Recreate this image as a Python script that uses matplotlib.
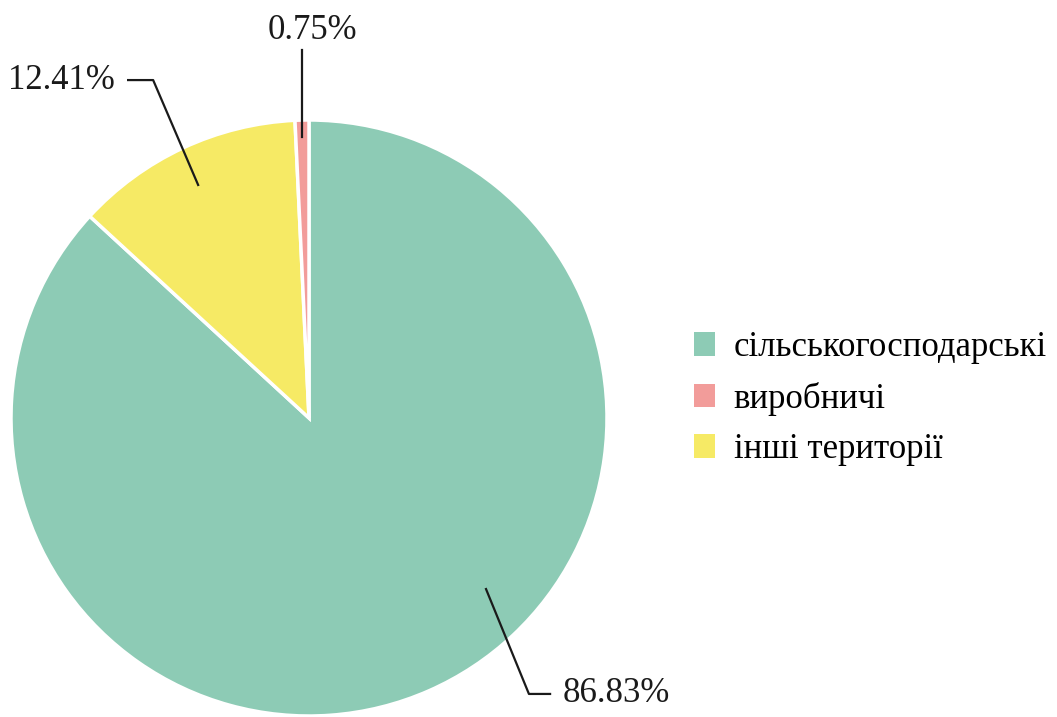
import matplotlib.pyplot as plt
from matplotlib.patches import Patch

plt.rcParams['font.family'] = ['Liberation Serif', 'DejaVu Serif']

labels = ['сільськогосподарські', 'виробничі', 'інші території']
values = [86.83, 0.75, 12.41]
colors = ['#8dcbb5', '#f29c9a', '#f6ea65']
pct_labels = ['86.83%', '0.75%', '12.41%']

fig = plt.figure(figsize=(10.57, 7.17), dpi=100)
ax = fig.add_axes([11 / 1057, 1 / 717, 596 / 1057, 596 / 717])

# pie drawn clockwise from the top: green, yellow, red
order = [0, 2, 1]
ax.pie([values[i] for i in order], colors=[colors[i] for i in order],
       startangle=90, counterclock=False, radius=1,
       wedgeprops=dict(edgecolor='white', linewidth=2.5))
ax.set_xlim(-1, 1)
ax.set_ylim(-1, 1)
ax.set_aspect('auto')
ax.axis('off')

lc = '#1a1a1a'
fs = 25
# 86.83%
ax.plot([0.594, 0.738, 0.809], [-0.574, -0.926, -0.926], color=lc, lw=1.6, clip_on=False)
ax.text(0.852, -0.926, pct_labels[0], fontsize=fs, ha='left', va='center', color=lc)
# 12.41%
ax.plot([-0.372, -0.523, -0.607], [0.782, 1.134, 1.134], color=lc, lw=1.6, clip_on=False)
ax.text(-0.651, 1.134, pct_labels[2], fontsize=fs, ha='right', va='center', color=lc)
# 0.75%
ax.plot([-0.023, -0.023], [0.943, 1.235], color=lc, lw=1.6, clip_on=False)
ax.text(0.013, 1.302, pct_labels[1], fontsize=fs, ha='center', va='center', color=lc)

handles = [Patch(facecolor=c, edgecolor='none') for c in colors]
fig.legend(handles, labels, loc='center left', bbox_to_anchor=(0.657, 0.444),
           frameon=False, fontsize=25, handlelength=0.6, handleheight=0.68,
           handletextpad=0.53, labelspacing=0.5, borderpad=0, borderaxespad=0)

fig.savefig('out.png', dpi=100)
